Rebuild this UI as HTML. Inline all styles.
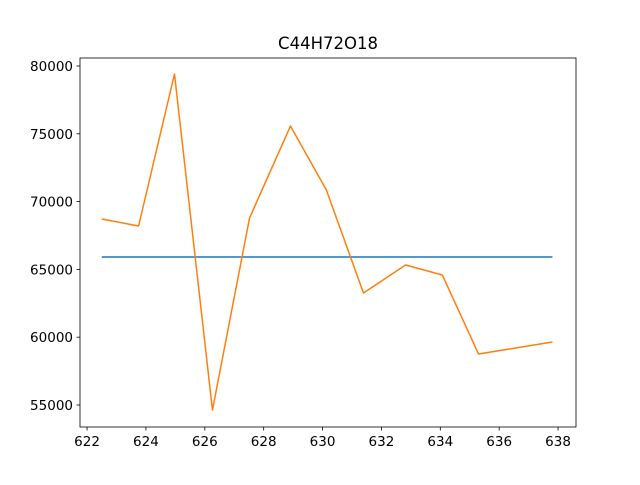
<!DOCTYPE html>
<html><head><meta charset="utf-8"><style>body{margin:0;background:#fff}svg{font-family:"DejaVu Sans","Liberation Sans",sans-serif}</style></head>
<body>
<svg id="c" width="640" height="480"></svg>
<script>
const xs=[622.5,623.75,624.97,626.26,627.52,628.91,630.13,631.39,632.82,634.07,635.3,637.81];
const ys=[68717,68200,79410,54631,68791,75575,70855,63260,65324,64587,58761,59646];
const meanVals=[65914,65914];
const meanXs=[622.5,637.81];
const xTicks=[622,624,626,628,630,632,634,636,638];
const yTicks=[55000,60000,65000,70000,75000,80000];
const title="C44H72O18";
const L=80,R=576,T=58,B=427,xmin=621.76,xmax=638.61,ymin=53378,ymax=80590;
const sx=v=>L+(v-xmin)/(xmax-xmin)*(R-L), sy=v=>B-(v-ymin)/(ymax-ymin)*(B-T);
const svg=document.getElementById('c');const NS='http://www.w3.org/2000/svg';
function mk(t,a,p){const e=document.createElementNS(NS,t);for(const k in a)e.setAttribute(k,a[k]);(p||svg).appendChild(e);return e;}
function line(xa,ya,col,name){const e=mk('polyline',{points:xa.map((x,i)=>sx(x)+','+sy(ya[i])).join(' '),fill:'none',stroke:col,'stroke-width':1.5,'stroke-linejoin':'round'});

}
line(meanXs,meanVals,'#1f77b4','mean-line');
line(xs,ys,'#ff7f0e','series-line');
const f=mk('rect',{x:L,y:T,width:R-L,height:B-T,fill:'none',stroke:'#000','stroke-width':0.8});


xTicks.forEach(v=>{const x=sx(v);mk('line',{x1:x,x2:x,y1:B,y2:B+3.5,stroke:'#000','stroke-width':0.8});
const t=mk('text',{x:x,y:B+19,'text-anchor':'middle','font-size':13.5});t.textContent=v;

});
yTicks.forEach(v=>{const y=sy(v);mk('line',{x1:L,x2:L-3.5,y1:y,y2:y,stroke:'#000','stroke-width':0.8});
const t=mk('text',{x:L-7,y:y+5,'text-anchor':'end','font-size':13.5});t.textContent=v;

});
const tt=mk('text',{x:(L+R)/2,y:T-9,'text-anchor':'middle','font-size':16.5});tt.textContent=title;


</script>
</body></html>
